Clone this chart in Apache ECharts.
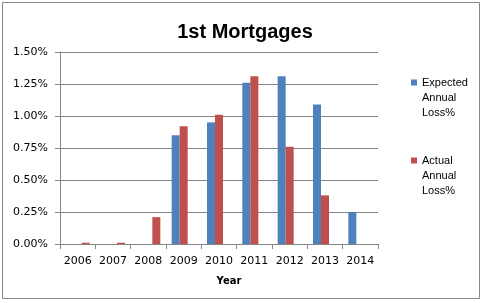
<!DOCTYPE html>
<html>
<head>
<meta charset="utf-8">
<script src="https://cdn.jsdelivr.net/npm/echarts@6/dist/echarts.min.js"></script>
<style>
  html, body { margin: 0; padding: 0; background: #fff; }
  #chart { width: 483px; height: 303px; }
</style>
</head>
<body>
<div id="chart"></div>
<script>
// data
const years = ['2006', '2007', '2008', '2009', '2010', '2011', '2012', '2013', '2014'];
const expectedLoss = [null, null, null, 0.85, 0.95, 1.26, 1.31, 1.09, 0.25];
const actualLoss = [null, null, null, 0.92, 1.01, 1.31, 0.76, 0.38, null];
// earlier actual figures sit in a third slot in the original
const actualLossEarly = [0.01, 0.01, 0.21, null, null, null, null, null, null];
const yTicks = [0, 0.25, 0.5, 0.75, 1.0, 1.25, 1.5];

const expectedName = 'Expected\nAnnual\nLoss%';
const actualName = 'Actual\nAnnual\nLoss%';

const blue = '#4F81BD';
const red = '#C0504D';
const gridGrey = '#868686';

const chart = echarts.init(document.getElementById('chart'));

chart.setOption({
  animation: false,
  title: {
    text: '1st Mortgages',
    left: 240,
    textAlign: 'center',
    top: 17,
    textStyle: { fontFamily: 'Liberation Sans', fontWeight: 'bold', fontSize: 20, color: '#000' }
  },
  legend: {
    data: [expectedName, actualName],
    orient: 'vertical',
    left: 411,
    top: 45,
    padding: 0,
    itemWidth: 6,
    itemHeight: 6,
    itemGap: 3,
    icon: 'rect',
    // two blank lines on top so the marker lines up with the first text line
    formatter: name => ' \n \n' + name,
    textStyle: {
      fontFamily: 'Liberation Sans',
      fontSize: 11,
      color: '#000',
      lineHeight: 15
    }
  },
  grid: {
    left: 60,
    right: 105,
    top: 52,
    bottom: 59,
    containLabel: false
  },
  xAxis: {
    type: 'category',
    data: years,
    name: 'Year',
    nameLocation: 'middle',
    nameGap: 32,
    nameTextStyle: {
      fontFamily: 'DejaVu Sans', fontWeight: 'bold', fontSize: 10, color: '#000',
      padding: [0, 0, 0, 20]
    },
    axisLine: { lineStyle: { color: gridGrey } },
    axisTick: { show: true, length: 5, alignWithLabel: false, lineStyle: { color: gridGrey } },
    axisLabel: { interval: 0, fontFamily: 'DejaVu Sans', fontSize: 11, color: '#000', margin: 12 }
  },
  yAxis: {
    type: 'value',
    min: yTicks[0],
    max: yTicks[yTicks.length - 1],
    interval: 0.25,
    axisLine: { show: true, lineStyle: { color: gridGrey } },
    axisTick: { show: true, length: 5, lineStyle: { color: gridGrey } },
    splitLine: { lineStyle: { color: gridGrey, width: 1 } },
    axisLabel: {
      fontFamily: 'DejaVu Sans',
      fontSize: 11,
      color: '#000',
      margin: 12,
      formatter: v => v.toFixed(2) + '%'
    }
  },
  series: [
    {
      name: expectedName,
      type: 'bar',
      data: expectedLoss,
      barWidth: 8,
      barGap: '0%',
      itemStyle: { color: blue }
    },
    {
      name: actualName,
      type: 'bar',
      data: actualLoss,
      barWidth: 8,
      barGap: '0%',
      itemStyle: { color: red }
    },
    {
      name: actualName,
      type: 'bar',
      data: actualLossEarly,
      barWidth: 8,
      barGap: '0%',
      itemStyle: { color: red }
    }
  ],
  graphic: [
    {
      type: 'rect',
      shape: { x: 2.5, y: 2.5, width: 477, height: 296 },
      style: { fill: null, stroke: '#868686', lineWidth: 1 },
      silent: true
    }
  ]
});
</script>
</body>
</html>
